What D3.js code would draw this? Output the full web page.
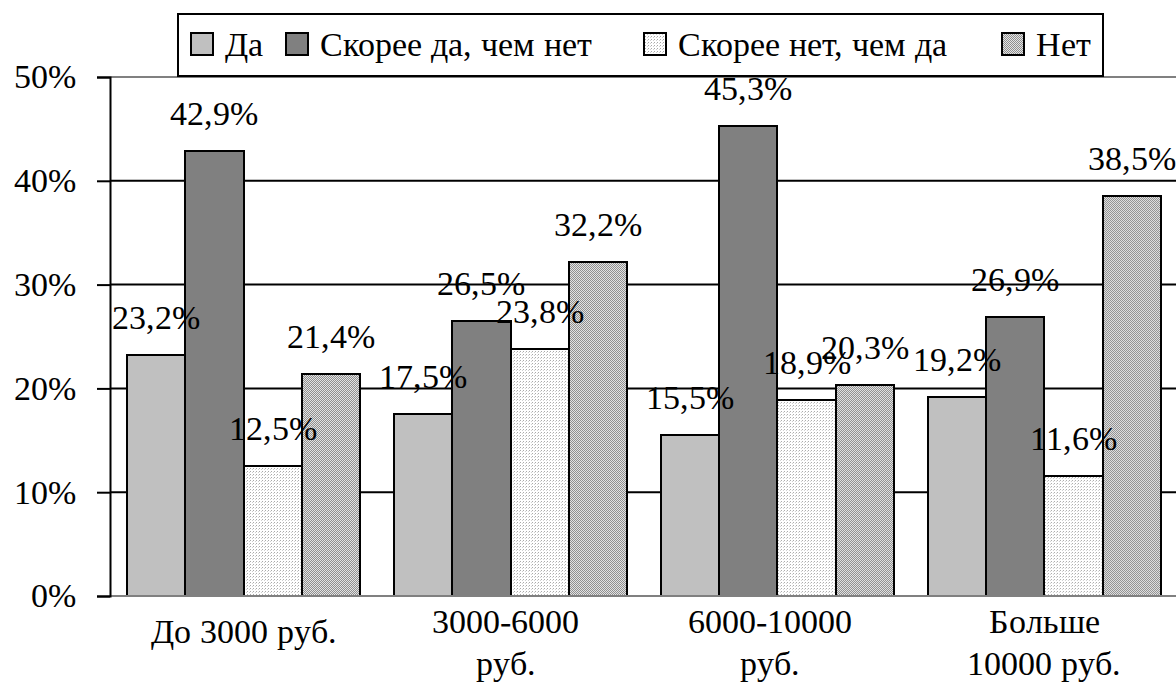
<!DOCTYPE html>
<html>
<head>
<meta charset="utf-8">
<script src="https://cdn.jsdelivr.net/npm/d3@7"></script>
<style>
  @font-face {
    font-family: 'ChartSerif';
    src: local('Liberation Serif'), local('LiberationSerif'), local('LiberationSerif-Regular'), local('Times New Roman');
  }
</style>
</head>
<body style="margin:0">
<script>
// data
const categories = ['До 3000 руб.', '3000-6000 руб.', '6000-10000 руб.', 'Больше 10000 руб.']
const categoryLines = [['До 3000 руб.'], ['3000-6000', 'руб.'], ['6000-10000', 'руб.'], ['Больше', '10000 руб.']]
const seriesNames = ['Да', 'Скорее да, чем нет', 'Скорее нет, чем да', 'Нет']
const valuesDa = [23.2, 17.5, 15.5, 19.2]
const valuesSkoreeDa = [42.9, 26.5, 45.3, 26.9]
const valuesSkoreeNet = [12.5, 23.8, 18.9, 11.6]
const valuesNet = [21.4, 32.2, 20.3, 38.5]
const yTicks = [0, 10, 20, 30, 40, 50]

const seriesValues = [valuesDa, valuesSkoreeDa, valuesSkoreeNet, valuesNet]

const width = 1176
const height = 684
const margin = { top: 77, left: 110, bottom: 88 }
const fontSize = 34
const fontName = "'ChartSerif', 'Liberation Serif', 'Times New Roman'"

// every text gets the face both as attribute and inline style
function serifText(sel) {
  return sel.attr('font-family', fontName)
    .style('font-family', fontName)
    .attr('font-size', fontSize)
    .attr('fill', '#000')
}

function render() {
  const svg = d3.select('body').append('svg')
    .attr('width', width)
    .attr('height', height)

  // fill patterns for the two hatched series
  const defs = svg.append('defs')
  const dots = defs.append('pattern')
    .attr('id', 'dots').attr('width', 3).attr('height', 3)
    .attr('patternUnits', 'userSpaceOnUse')
  dots.append('rect').attr('width', 3).attr('height', 3).attr('fill', '#fff')
  dots.append('rect').attr('width', 1).attr('height', 1).attr('fill', '#a8a8a8')
  dots.append('rect').attr('x', 2).attr('y', 1).attr('width', 1).attr('height', 1).attr('fill', '#d0d0d0')

  const checker = defs.append('pattern')
    .attr('id', 'checker').attr('width', 2).attr('height', 2)
    .attr('patternUnits', 'userSpaceOnUse')
  checker.append('rect').attr('width', 2).attr('height', 2).attr('fill', '#e4e4e4')
  checker.append('rect').attr('width', 1).attr('height', 1).attr('fill', '#8e8e8e')
  checker.append('rect').attr('x', 1).attr('y', 1).attr('width', 1).attr('height', 1).attr('fill', '#8e8e8e')

  const fills = ['#c0c0c0', '#808080', 'url(#dots)', 'url(#checker)']

  const x0 = d3.scaleBand()
    .domain(categories)
    .range([margin.left, 1178])
    .paddingInner(0.127)
    .paddingOuter(0.0637)

  const x1 = d3.scaleBand()
    .domain(seriesNames)
    .range([0, x0.bandwidth()])

  const y = d3.scaleLinear()
    .domain([0, 50])
    .range([height - margin.bottom, margin.top])

  // gridlines
  svg.append('g')
    .selectAll('line')
    .data(yTicks.filter(t => t > 0 && t < 50))
    .enter()
    .append('line')
    .attr('x1', margin.left).attr('x2', width)
    .attr('y1', d => y(d)).attr('y2', d => y(d))
    .attr('stroke', '#000').attr('stroke-width', 2)

  // plot border top (grey)
  svg.append('line')
    .attr('x1', margin.left).attr('x2', width)
    .attr('y1', y(50)).attr('y2', y(50))
    .attr('stroke', '#808080').attr('stroke-width', 2)

  // bars
  const groups = svg.append('g')
    .selectAll('g')
    .data(categories)
    .enter()
    .append('g')
    .attr('transform', d => 'translate(' + x0(d) + ',0)')

  groups.selectAll('rect')
    .data((c, i) => seriesNames.map((s, j) => ({ series: s, idx: j, value: seriesValues[j][i] })))
    .enter()
    .append('rect')
    .attr('x', d => x1(d.series))
    .attr('y', d => y(d.value))
    .attr('width', x1.bandwidth())
    .attr('height', d => y(0) - y(d.value))
    .attr('fill', d => fills[d.idx])
    .attr('stroke', '#000')
    .attr('stroke-width', 2)
    .attr('shape-rendering', 'crispEdges')

  svg.append('line')
    .attr('x1', margin.left).attr('x2', width)
    .attr('y1', y(0)).attr('y2', y(0))
    .attr('stroke', '#808080').attr('stroke-width', 2)

  // y axis
  const yAxis = d3.axisLeft(y)
    .tickValues(yTicks)
    .tickSize(13)
    .tickPadding(21)
    .tickFormat(d => d + '%')

  const yg = svg.append('g')
    .attr('transform', 'translate(' + margin.left + ',0)')
    .call(yAxis)
  yg.attr('font-family', fontName).attr('font-size', fontSize)
  yg.select('.domain').attr('stroke', '#000').attr('stroke-width', 2)
  yg.selectAll('.tick line').attr('stroke', '#000').attr('stroke-width', 2)
  serifText(yg.selectAll('.tick text'))

  // value labels
  serifText(groups.selectAll('text.value')
    .data((c, i) => seriesNames.map((s, j) => ({ series: s, value: seriesValues[j][i] })))
    .enter()
    .append('text')
    .attr('class', 'value')
    .attr('x', d => x1(d.series) + x1.bandwidth() / 2)
    .attr('y', d => y(d.value) - 26)
    .attr('text-anchor', 'middle'))
    .text(d => d.value.toFixed(1).replace('.', ',') + '%')

  // category labels, wrapped as in the original
  const labelShift = [0, -5, -7, 0]
  const catLabels = serifText(svg.append('g')
    .selectAll('text')
    .data(categories)
    .enter()
    .append('text')
    .attr('text-anchor', 'middle')
    .attr('transform', (d, i) => 'translate(' + (x0(d) + x0.bandwidth() / 2 + labelShift[i]) + ',0)'))

  catLabels.selectAll('tspan')
    .data((d, i) => categoryLines[i].map(line => ({ line: line, n: categoryLines[i].length })))
    .enter()
    .append('tspan')
    .attr('x', 0)
    .attr('y', (d, k) => d.n === 1 ? 643 : 633 + k * 42)
    .text(d => d.line)

  // legend (item offsets fixed so no text measuring is needed)
  const legendX = [191, 286, 644, 1002]
  const legend = svg.append('g')
  legend.append('rect')
    .attr('x', 178).attr('y', 14)
    .attr('width', 925).attr('height', 62)
    .attr('fill', '#fff')
    .attr('stroke', '#000')
    .attr('stroke-width', 2)

  seriesNames.forEach(function (name, i) {
    legend.append('rect')
      .attr('x', legendX[i]).attr('y', 33)
      .attr('width', 22).attr('height', 22)
      .attr('fill', fills[i])
      .attr('stroke', '#000')
      .attr('stroke-width', 2)
    serifText(legend.append('text')
      .attr('x', legendX[i] + 34).attr('y', 56))
      .text(name)
  })
}

// draw once the local serif face is ready (fall back to drawing anyway)
if (document.fonts && document.fonts.load) {
  document.fonts.load("34px 'ChartSerif'", 'Да 42,9%')
    .then(render, render)
} else {
  render()
}
</script>
</body>
</html>
